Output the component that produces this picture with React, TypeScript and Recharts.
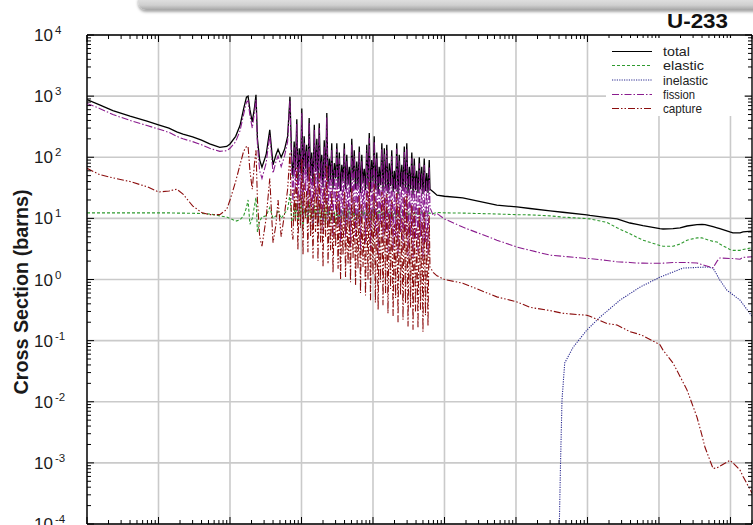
import React from 'react';
import { LineChart, Line, XAxis, YAxis, CartesianGrid } from 'recharts';

const FONT = "'Liberation Sans', Arial, Helvetica, sans-serif";

// ---- axis ticks ----
const xTicks = [1e-2, 1e-1, 1, 10, 100, 1e3, 1e4, 1e5, 1e6, 1e7];
const yTicks = [1e-4, 1e-3, 1e-2, 1e-1, 1, 10, 100, 1e3, 1e4];
const minorMults = [2, 3, 4, 5, 6, 7, 8, 9];
const xAllTicks = [...xTicks, ...xTicks.flatMap((d) => minorMults.map((m) => m * d)).filter((v) => v <= 2e7)].sort((a, b) => a - b);
const yAllTicks = [...yTicks, ...yTicks.slice(0, -1).flatMap((d) => minorMults.map((m) => m * d))].sort((a, b) => a - b);

// ---- thermal / low-energy region (eV) ----
const lowE = [0.01, 0.015, 0.023, 0.04, 0.069, 0.1, 0.14, 0.18, 0.22, 0.3, 0.4, 0.52, 0.72, 0.9, 1.0, 1.2, 1.38, 1.55, 1.7, 1.79, 1.9, 2.05, 2.2, 2.31, 2.42, 2.6, 2.8, 3.2, 3.6, 4.0, 4.4, 4.7, 5.2, 5.8, 6.4, 6.9, 7.3];
const lowTotal = [880, 720, 580, 470, 390, 340, 300, 260, 240, 215, 190, 165, 145, 150, 165, 220, 330, 620, 960, 1000, 600, 380, 650, 1050, 200, 90, 69, 110, 280, 75, 110, 135, 100, 135, 220, 980, 90];
const lowFission = [760, 630, 500, 400, 330, 290, 255, 220, 200, 180, 160, 140, 125, 128, 140, 180, 270, 500, 800, 840, 480, 300, 540, 900, 160, 60, 45, 80, 230, 55, 85, 105, 70, 105, 180, 850, 60];
const lowCapture = [66, 52, 46, 40, 33, 27, 28, 30, 25, 16, 12.5, 11.5, 11.5, 14, 20, 40, 75, 125, 150, 150, 60, 30, 80, 130, 20, 5, 3.5, 10, 45, 4, 8, 20, 5, 12, 30, 120, 6];
const lowElastic = [12.3, 12.3, 12.3, 12.3, 12.3, 12.3, 12.3, 12.2, 12.2, 12.1, 12, 11.8, 11, 10.5, 10, 9, 9.5, 11, 15, 20, 8, 10, 16, 22, 6, 9, 10.5, 11, 15, 10, 11, 13, 10, 12, 14, 25, 9];

// ---- resolved resonance region (eV) ----
const resE = [
  7.6, 7.9, 8.2, 8.6, 8.9, 9.3, 9.7, 10.1, 10.5, 10.9,
  11.4, 11.8, 12.3, 12.8, 13.4, 13.9, 14.5, 15.1, 15.7, 16.4,
  17.0, 17.7, 18.5, 19.2, 20.0, 20.8, 21.7, 22.6, 23.5, 24.5,
  25.5, 26.5, 27.6, 28.8, 30.0, 31.2, 32.5, 33.8, 35.2, 36.6,
  38.1, 39.7, 41.3, 43.0, 44.8, 46.6, 48.5, 50.5, 52.6, 54.7,
  57.0, 59.3, 61.7, 64.3, 66.9, 69.7, 72.5, 75.5, 78.6, 81.8,
  85.2, 88.7, 92.3, 96.1, 100, 104, 108, 113, 118, 122,
  127, 133, 138, 144, 150, 156, 162, 169, 176, 183,
  191, 199, 207, 215, 224, 233, 243, 253, 263, 274,
  285, 297, 309, 322, 335, 349, 363, 378, 393, 409,
  426, 444, 462, 481, 500, 521, 542, 565, 588, 612,
];
const resTotal = [
  48, 180, 60, 420, 40, 140, 55, 630, 38, 220,
  65, 160, 42, 440, 50, 120, 35, 340, 58, 200,
  38, 360, 45, 110, 32, 190, 48, 530, 36, 95,
  42, 170, 30, 80, 45, 170, 33, 120, 28, 75,
  40, 170, 30, 110, 36, 70, 27, 200, 42, 130,
  30, 85, 34, 150, 26, 110, 38, 65, 29, 160,
  33, 250, 27, 90, 40, 220, 30, 120, 25, 70,
  35, 170, 28, 140, 31, 160, 26, 80, 34, 130,
  27, 60, 30, 170, 25, 110, 33, 75, 28, 150,
  31, 170, 26, 70, 30, 120, 24, 95, 29, 60,
  26, 100, 30, 70, 25, 95, 28, 55, 26, 90,
];
const resFission = [
  18, 145, 25, 350, 12, 110, 20, 530, 9, 175,
  28, 125, 11, 370, 16, 95, 7, 280, 22, 160,
  8, 300, 14, 85, 6, 150, 17, 450, 8, 75,
  12, 135, 5, 62, 14, 138, 7, 95, 4, 58,
  11, 138, 5, 86, 8, 54, 3.5, 165, 12, 104,
  5, 66, 8, 122, 3, 86, 10, 50, 4, 130,
  7, 205, 3, 70, 11, 180, 5, 95, 2.5, 54,
  8, 138, 4, 112, 6, 130, 2.8, 62, 7, 104,
  3, 46, 5, 138, 2.5, 88, 6, 58, 3, 122,
  5.5, 138, 2.4, 54, 5, 96, 2.2, 75, 4.5, 46,
  2.5, 80, 5, 54, 2.2, 75, 4, 42, 2.5, 70,
];
const resCapture = [
  4.5, 30, 9, 70, 3, 25, 7, 95, 2.5, 38,
  10, 28, 2.8, 70, 5, 22, 2.2, 55, 6, 32,
  2.0, 55, 4, 18, 1.6, 32, 5, 75, 1.8, 16,
  3, 28, 1.3, 13, 3.5, 28, 1.5, 20, 1.0, 11,
  2.5, 28, 1.1, 18, 1.8, 10, 0.9, 32, 2.2, 20,
  0.8, 12, 1.5, 24, 0.6, 17, 1.6, 9, 0.55, 26,
  1.0, 40, 0.45, 14, 1.2, 36, 0.42, 19, 0.32, 10,
  0.9, 27, 0.38, 22, 0.6, 25, 0.28, 12, 0.7, 20,
  0.25, 8, 0.5, 26, 0.2, 17, 0.55, 10, 0.22, 22,
  0.4, 25, 0.17, 9, 0.35, 17, 0.15, 13, 0.3, 7,
  0.16, 15, 0.32, 9, 0.14, 13, 0.26, 7, 0.17, 11,
];
const resElastic = [
  9, 15, 10, 18, 8, 14, 11, 22, 7, 14,
  11, 16, 9, 19, 10, 13, 8, 17, 11, 14,
  8, 16, 10, 13, 9, 15, 8, 20, 11, 13,
  9, 14, 10, 13, 8, 14, 10, 13, 9, 14,
  11, 15, 8, 13, 10, 15, 9, 16, 11, 13,
  9, 14, 10, 13, 9, 14, 11, 13, 9, 14,
  10, 16, 9, 14, 11, 15, 10, 13, 11, 14,
  10, 13, 11, 13, 10, 14, 11, 13, 10, 13,
  11, 13, 10, 14, 11, 13, 11, 13, 11, 13,
  11, 13, 11, 12.5, 11, 13, 11.5, 12.5, 11.5, 12.5,
  11.5, 12.5, 11.8, 12.5, 11.8, 12.4, 12, 12.4, 12, 12.3,
];

// ---- unresolved / fast region (eV) ----
const highE = [627, 700, 785, 1000, 1800, 5400, 10300, 15700, 30000, 45000, 98000, 108000, 187000, 259000, 393000, 492000, 597000, 1.03e6, 1.14e6, 1.57e6, 1.97e6, 2.47e6, 3.4e6, 4.0e6, 4.4e6, 5.7e6, 6.5e6, 7.1e6, 9.8e6, 1.08e7, 1.36e7, 1.5e7, 2e7];
const highTotal = [30, 27, 24, 23, 21.6, 16.5, 15.4, 14.5, 13.3, 12.6, 11.4, 11.2, 10.3, 9.8, 8.4, 8.0, 7.6, 6.8, 6.7, 6.8, 7.0, 7.5, 7.9, 8.0, 7.9, 7.3, 7.0, 6.8, 6.0, 5.8, 5.8, 6.0, 6.2];
const highElastic = [12.2, 12.0, 12.5, 12.3, 12.2, 11.8, 11.5, 11.4, 11.0, 10.5, 9.9, 9.8, 8.6, 7.0, 5.6, 4.9, 4.4, 3.6, 3.5, 3.5, 3.8, 4.4, 4.8, 4.8, 4.6, 4.2, 4.1, 3.8, 3.1, 3.0, 3.0, 3.1, 3.3];
const highFission = [15, 11, 12, 9.8, 7.2, 4.4, 3.4, 3.0, 2.5, 2.4, 2.2, 2.2, 2.05, 1.95, 1.9, 1.86, 1.85, 1.84, 1.85, 1.9, 1.9, 1.9, 1.86, 1.75, 1.7, 1.55, 2.0, 2.25, 2.2, 2.2, 2.15, 2.3, 2.35];
const highCapture = [1.6, 1.3, 1.15, 1.0, 0.87, 0.52, 0.43, 0.35, 0.31, 0.28, 0.26, 0.25, 0.19, 0.18, 0.14, 0.13, 0.12, 0.086, 0.07, 0.043, 0.026, 0.0155, 0.0056, 0.0028, 0.0018, 0.00081, 0.00083, 0.00088, 0.0011, 0.001, 0.00076, 0.0006, 0.00032];

// ---- inelastic (threshold ~40 keV) ----
const inelE = [40400, 42000, 44000, 48000, 63000, 98000, 150000, 285000, 542000, 1.03e6, 2.17e6, 4.7e6, 5.7e6, 7.1e6, 8.9e6, 1.36e7, 2e7];
const inelV = [0.0001, 0.001, 0.0106, 0.043, 0.078, 0.149, 0.243, 0.46, 0.75, 1.09, 1.54, 1.6, 1.54, 0.98, 0.67, 0.46, 0.25];

const zip = (es: number[], vs: number[]) => es.map((e, i) => ({ e, v: vs[i] }));
const totalData = [...zip(lowE, lowTotal), ...zip(resE, resTotal), ...zip(highE, highTotal)];
const elasticData = [...zip(lowE, lowElastic), ...zip(resE, resElastic), ...zip(highE, highElastic)];
const fissionData = [...zip(lowE, lowFission), ...zip(resE, resFission), ...zip(highE, highFission)];
const captureData = [...zip(lowE, lowCapture), ...zip(resE, resCapture), ...zip(highE, highCapture)];
const inelasticData = zip(inelE, inelV);

const series = [
  { name: 'total', data: totalData, color: '#000000', dash: undefined as string | undefined, width: 1.3 },
  { name: 'elastic', data: elasticData, color: '#2f9a2f', dash: '3 2', width: 1.1 },
  { name: 'inelastic', data: inelasticData, color: '#2a2a90', dash: '1.2 1.2', width: 1.1 },
  { name: 'fission', data: fissionData, color: '#8a1c8e', dash: '7 2 1.5 2', width: 1.1 },
  { name: 'capture', data: captureData, color: '#8b0d0d', dash: '7 2 1.5 2 1.5 2', width: 1.1 },
];

const isMajor = (v: number) => {
  const lg = Math.log10(v);
  return Math.abs(lg - Math.round(lg)) < 1e-6;
};
const MAJOR = 7;
const MINOR = 4;

const makeTick = (side: 'left' | 'right' | 'top' | 'bottom', withLabel: boolean) => (props: any) => {
  const { x, y, payload } = props;
  const major = isMajor(payload.value);
  const len = major ? MAJOR : MINOR;
  let x2 = x;
  let y2 = y;
  if (side === 'left') x2 = x + len;
  if (side === 'right') x2 = x - len;
  if (side === 'top') y2 = y + len;
  if (side === 'bottom') y2 = y - len;
  const exp = Math.round(Math.log10(payload.value));
  return (
    <g>
      <line x1={x} y1={y} x2={x2} y2={y2} stroke="#000" strokeWidth={1} />
      {withLabel && major && (
        <g>
          <text x={x - 34} y={y + 6} textAnchor="end" fontSize={17} fontFamily={FONT} fill="#1a1a1a">10</text>
          <text x={x - 32} y={y - 1} textAnchor="start" fontSize={11.5} fontFamily={FONT} fill="#1a1a1a">{`${exp}`}</text>
        </g>
      )}
    </g>
  );
};

const LeftTick = makeTick('left', true);
const RightTick = makeTick('right', false);
const TopTick = makeTick('top', false);
const BottomTick = makeTick('bottom', false);

const legendRows = [51.5, 65.5, 80, 94.5, 108.5];
const legendLens = [27, 41, 45, 32, 39];

export default function App() {
  const axisStroke = { stroke: '#000', strokeWidth: 1.4 };
  return (
    <div style={{ position: 'absolute', left: 0, top: 0, width: 753, height: 525, background: '#fff', overflow: 'hidden' }}>
      <div
        style={{
          position: 'absolute', left: 138, top: -2, width: 640, height: 12,
          background: 'linear-gradient(to bottom, #e4e4e4 0%, #cfcfcf 60%, #a5a5a5 100%)',
          boxShadow: '0 2px 3px rgba(0,0,0,0.35)', borderRadius: '0 0 0 8px',
        }}
      />
      <LineChart width={753} height={525} margin={{ top: 34, right: 0, bottom: 0, left: 0 }}>
        <CartesianGrid xAxisId="x" yAxisId="y" stroke="#cacaca" strokeWidth={1.6}
          verticalValues={xTicks} horizontalValues={yTicks} />
        <XAxis xAxisId="x" dataKey="e" type="number" scale="log" domain={[0.01, 2e7]} allowDataOverflow
          ticks={xAllTicks} interval={0} orientation="bottom" height={1} tickSize={0} tickMargin={0}
          tick={BottomTick} tickLine={false} axisLine={axisStroke} />
        <XAxis xAxisId="xt" dataKey="e" type="number" scale="log" domain={[0.01, 2e7]} allowDataOverflow
          ticks={xAllTicks} interval={0} orientation="top" height={1} tickSize={0} tickMargin={0}
          tick={TopTick} tickLine={false} axisLine={axisStroke} />
        <YAxis yAxisId="y" type="number" scale="log" domain={[1e-4, 1e4]} allowDataOverflow
          ticks={yAllTicks} interval={0} orientation="left" width={87} tickSize={0} tickMargin={0}
          tick={LeftTick} tickLine={false} axisLine={axisStroke} />
        <YAxis yAxisId="yr" type="number" scale="log" domain={[1e-4, 1e4]} allowDataOverflow
          ticks={yAllTicks} interval={0} orientation="right" width={1} tickSize={0} tickMargin={0}
          tick={RightTick} tickLine={false} axisLine={axisStroke} />
        {series.map((s) => (
          <Line key={s.name} data={s.data} dataKey="v" xAxisId="x" yAxisId="y" type="linear" stroke={s.color}
            strokeWidth={s.width} strokeDasharray={s.dash} dot={false} activeDot={false} isAnimationActive={false} />
        ))}
      </LineChart>
      <svg width={753} height={525} style={{ position: 'absolute', left: 0, top: 0, pointerEvents: 'none' }}>
        <text x={728} y={28} textAnchor="end" fontSize={21} fontWeight="bold" fontFamily={FONT} fill="#111"
          textLength={61} lengthAdjust="spacingAndGlyphs">U-233</text>
        <text transform="translate(28,292) rotate(-90)" textAnchor="middle" fontSize={20} fontWeight="bold"
          fontFamily={FONT} fill="#1a1a1a" textLength={205} lengthAdjust="spacingAndGlyphs">Cross Section (barns)</text>
        <rect x={606} y={38} width={138} height={78} fill="#fff" />
        {series.map((s, i) => (
          <g key={s.name}>
            <line x1={612} x2={652} y1={legendRows[i]} y2={legendRows[i]} stroke={s.color} strokeWidth={1.1}
              strokeDasharray={s.dash} />
            <text x={663} y={legendRows[i] + 4.5} fontSize={13.5} fontFamily={FONT} fill="#222"
              textLength={legendLens[i]} lengthAdjust="spacingAndGlyphs">{s.name}</text>
          </g>
        ))}
      </svg>
    </div>
  );
}
